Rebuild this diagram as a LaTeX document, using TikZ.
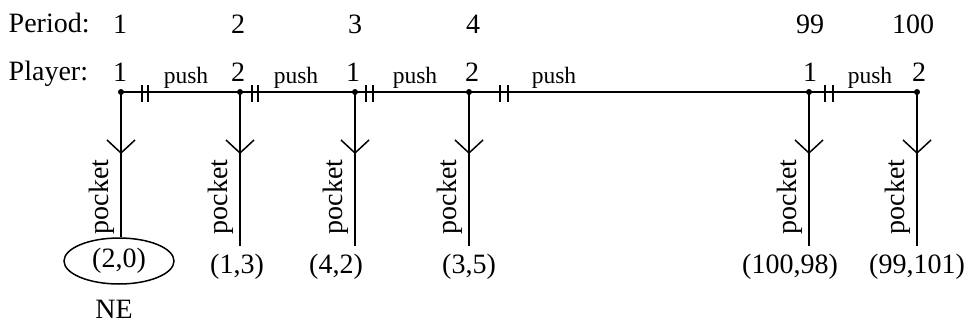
\documentclass[tikz,border=0pt]{standalone}
\usepackage{fontspec}
\setmainfont{Liberation Serif}
\usetikzlibrary{decorations.markings,shapes.geometric}

\begin{document}
\begin{tikzpicture}[x=1pt,y=-1pt,line width=1.5pt,
  every node/.style={font=\fontsize{28}{30}\selectfont,inner sep=0pt},
  txt/.style={anchor=base},
  pushlbl/.style={anchor=base,font=\fontsize{23.5}{25}\selectfont},
  decision/.style={circle,fill,minimum size=6pt,inner sep=0pt},
  payoff/.style={anchor=base,inner ysep=7pt},
  pocketlbl/.style={rotate=90,anchor=base},
  move/.style={postaction={decorate},decoration={markings,
    mark=at position 61pt with {\draw[line width=1.5pt] (-13pt,14pt) -- (0pt,0pt) -- (-13pt,-14pt);}}}]
\useasboundingbox (0,0) rectangle (972,324);

% row headings
\node[txt,anchor=base west] (hper) at (8,32) {Period:};
\node[txt,anchor=base west] (hpl) at (8,80) {Player:};

% period numbers
\node[txt] (t1) at (120,33) {1};
\node[txt] (t2) at (238,33) {2};
\node[txt] (t3) at (355,33) {3};
\node[txt] (t4) at (473,33) {4};
\node[txt] (t99) at (810,33) {99};
\node[txt] (t100) at (913,33) {100};

% decision nodes
\node[decision] (d1) at (121,92) {};
\node[decision] (d2) at (240,92) {};
\node[decision] (d3) at (355,92) {};
\node[decision] (d4) at (469,92) {};
\node[decision] (d5) at (809,92) {};
\node[decision] (d6) at (917,92) {};

% player labels
\node[txt] (pl1) at (120,81) {1};
\node[txt] (pl2) at (238,81) {2};
\node[txt] (pl3) at (353,81) {1};
\node[txt] (pl4) at (472,81) {2};
\node[txt] (pl5) at (810,81) {1};
\node[txt] (pl6) at (919,81) {2};

% push line
\draw (d1.center) -- (d2.center) -- (d3.center) -- (d4.center) -- (d5.center) -- (d6.center);
\foreach \n/\o in {d1/21,d1/27,d2/12,d2/18,d3/11,d3/18,d4/31,d4/39,d5/16,d5/24}
  \draw ([xshift=\o pt]\n.center) ++(0,-7) -- ++(0,17);

\node[pushlbl] (u1) at (186,83) {push};
\node[pushlbl] (u2) at (296,83) {push};
\node[pushlbl] (u3) at (415,83) {push};
\node[pushlbl] (u4) at (554,83) {push};
\node[pushlbl] (u5) at (870,83) {push};

% payoffs
\node[ellipse,draw,minimum width=110pt,minimum height=46pt,inner sep=0pt] (p1) at (119,261) {(2,0)};
\node[payoff] (p2) at (237,273) {(1,3)};
\node[payoff] (p3) at (336,273) {(4,2)};
\node[payoff] (p4) at (469,273) {(3,5)};
\node[payoff] (p5) at (790,273) {(100,98)};
\node[payoff] (p6) at (917,273) {(99,101)};
\node[txt] (ne) at (114,318) {NE};

% pocket moves
\foreach \i in {1,...,6}
  \draw[move] (d\i.center) -- (d\i |- p\i.north);

\foreach \i in {1,...,6}
  \path (d\i.center) ++(-13,105) node[pocketlbl] {pocket};
\end{tikzpicture}
\end{document}
